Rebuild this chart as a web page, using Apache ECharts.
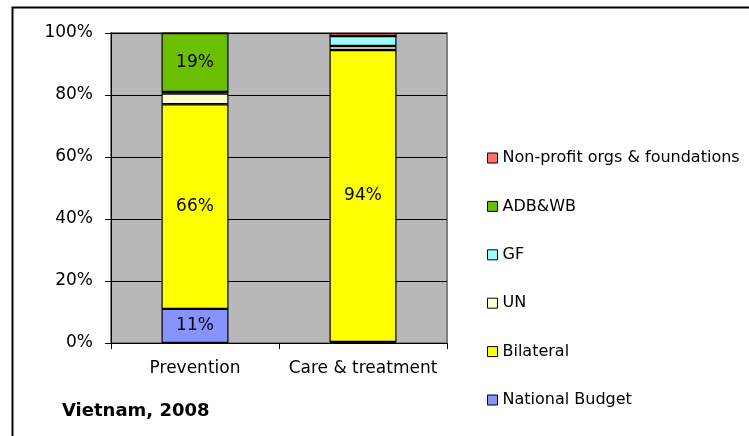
<!DOCTYPE html>
<html>
<head>
<meta charset="utf-8">
<script src="https://cdn.jsdelivr.net/npm/echarts@6/dist/echarts.min.js"></script>
<style>
  html, body { margin: 0; padding: 0; background: #fff; }
  #chart { width: 749px; height: 436px; }
</style>
</head>
<body>
<div id="chart"></div>
<script>
const categories = ['Prevention', 'Care & treatment']
const seriesNames = ['National Budget', 'Bilateral', 'UN', 'GF', 'ADB&WB', 'Non-profit orgs & foundations']
const nationalBudget = [11, 0.3]
const bilateral = [66, 94.2]
const un = [3.5, 1.3]
const gf = [0.5, 3.2]
const adbWb = [19, 0]
const nonProfit = [0, 1.0]
const yTicks = [0, 20, 40, 60, 80, 100]

const values = [nationalBudget, bilateral, un, gf, adbWb, nonProfit]
const colors = ['#8893FF', '#FFFF00', '#FFFFCC', '#99FFFF', '#6CBF00', '#FF6F6F']

const font = 'DejaVu Sans, sans-serif'
const chart = echarts.init(document.getElementById('chart'))

chart.setOption({
  animation: false,
  textStyle: { fontFamily: font },
  graphic: [
    {
      type: 'rect',
      shape: { x: 12.5, y: 7.5, width: 900, height: 600 },
      style: { fill: 'none', stroke: '#000', lineWidth: 2 },
      z: -10
    },
    {
      type: 'text',
      left: 62,
      top: 402,
      style: { text: 'Vietnam, 2008', font: 'bold 18px ' + font, fill: '#000' }
    }
  ],
  legend: {
    orient: 'vertical',
    left: 482,
    top: 145,
    itemWidth: 10,
    itemHeight: 10,
    itemGap: 32.4,
    itemTextGap: 8,
    icon: 'rect',
    data: seriesNames.slice().reverse(),
    textStyle: { fontSize: 16, color: '#000', fontFamily: font },
    itemStyle: { borderColor: '#000', borderWidth: 1 }
  },
  grid: {
    left: 111,
    right: 302,
    top: 33,
    bottom: 93,
    show: true,
    backgroundColor: '#B8B8B8',
    borderColor: '#808080',
    borderWidth: 2
  },
  xAxis: {
    type: 'category',
    data: categories,
    axisLine: { lineStyle: { color: '#000', width: 1 } },
    axisTick: { show: true, length: 6, lineStyle: { color: '#000' } },
    axisLabel: { fontSize: 17, color: '#000', margin: 17, interval: 0 }
  },
  yAxis: {
    type: 'value',
    min: yTicks[0],
    max: yTicks[yTicks.length - 1],
    interval: 20,
    axisLine: { show: true, lineStyle: { color: '#000', width: 1 } },
    axisTick: { show: true, length: 6, lineStyle: { color: '#000' } },
    axisLabel: { fontSize: 17, color: '#000', margin: 18, formatter: '{value}%' },
    splitLine: { lineStyle: { color: '#000', width: 1 } }
  },
  series: seriesNames.map((name, i) => ({
    type: 'bar',
    name,
    stack: 'total',
    barWidth: 67,
    data: values[i],
    itemStyle: { color: colors[i], borderColor: '#000', borderWidth: 1.2 },
    label: {
      show: true,
      color: '#000',
      fontSize: 17,
      formatter: p => (p.value >= 10 ? Math.round(p.value) + '%' : '')
    }
  }))
})
</script>
</body>
</html>
